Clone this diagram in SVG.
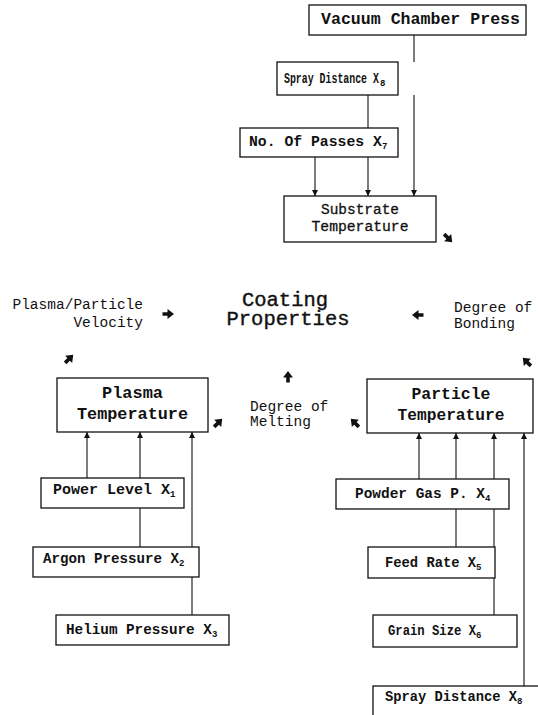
<svg xmlns="http://www.w3.org/2000/svg" width="538" height="715" viewBox="0 0 538 715">
  <style>
    .box { fill: #fff; stroke: #111; stroke-width: 1.3; }
    .lbl { font-family: "Liberation Mono", "Courier New", monospace; font-weight: bold; fill: #111; }
    .reg { font-weight: normal; stroke: #111; stroke-width: 0.3; }
    .sub { font-family: "Liberation Mono", "Courier New", monospace; font-weight: bold; fill: #111; font-size: 9px; }
    .free { font-family: "Liberation Mono", "Courier New", monospace; fill: #111; font-size: 14.5px; }
    .big { font-family: "Liberation Mono", "Courier New", monospace; fill: #111; font-size: 20.5px; stroke: #111; stroke-width: 0.4; }
    .wire { stroke: #111; stroke-width: 1.1; fill: none; }
    .arr { marker-end: url(#tip); }
    .bolt { fill: #111; }
  </style>
  <defs>
    <marker id="tip" viewBox="0 0 8 8" refX="8" refY="4" markerWidth="6" markerHeight="6" markerUnits="userSpaceOnUse" orient="auto">
      <path d="M0,0 L8,4 L0,8 Z" fill="#111"/>
    </marker>
    <path id="boltArrow" d="M-5.5,-1.8 H-0.5 V-5 L6,0 L-0.5,5 V1.8 H-5.5 Z"/>
  </defs>

  <rect width="538" height="715" fill="#fff"/>

  <!-- connectors -->
  <g id="connectors">
    <!-- upper cluster -->
    <line class="wire" x1="414" y1="35" x2="414" y2="62"/>
    <line class="wire" x1="368" y1="95" x2="368" y2="128"/>
    <line class="wire arr" x1="414" y1="95" x2="414" y2="196"/>
    <line class="wire arr" x1="315" y1="157" x2="315" y2="196"/>
    <line class="wire arr" x1="368" y1="157" x2="368" y2="196"/>
    <!-- plasma side -->
    <line class="wire arr" x1="87" y1="478" x2="87" y2="432"/>
    <line class="wire arr" x1="140" y1="478" x2="140" y2="432"/>
    <line class="wire" x1="140" y1="547" x2="140" y2="508"/>
    <line class="wire arr" x1="192" y1="615" x2="192" y2="432"/>
    <!-- particle side -->
    <line class="wire arr" x1="419" y1="479" x2="419" y2="433"/>
    <line class="wire arr" x1="456" y1="479" x2="456" y2="433"/>
    <line class="wire" x1="456" y1="547" x2="456" y2="509"/>
    <line class="wire arr" x1="494" y1="615" x2="494" y2="433"/>
    <line class="wire arr" x1="524" y1="686" x2="524" y2="433"/>
  </g>

  <!-- bold direction marks around the centre -->
  <g id="marks" class="bolt">
    <use href="#boltArrow" transform="translate(168,314)"/>
    <use href="#boltArrow" transform="translate(418,315) rotate(180)"/>
    <use href="#boltArrow" transform="translate(288,377) rotate(-90)"/>
    <use href="#boltArrow" transform="translate(69,359) rotate(-45)"/>
    <use href="#boltArrow" transform="translate(218,423) rotate(-45)"/>
    <use href="#boltArrow" transform="translate(355,423) rotate(-135)"/>
    <use href="#boltArrow" transform="translate(527,362) rotate(-135)"/>
    <use href="#boltArrow" transform="translate(448,238) rotate(45)"/>
  </g>

  <!-- upper cluster nodes -->
  <g id="vacuum">
    <rect class="box" x="309" y="5" width="217" height="30"/>
    <text class="lbl" x="321" y="24" font-size="16" textLength="199" lengthAdjust="spacingAndGlyphs">Vacuum Chamber Press</text>
  </g>
  <g id="spray-top">
    <rect class="box" x="277" y="62" width="121" height="33"/>
    <text class="lbl" font-size="15" transform="translate(284,83) scale(0.66,1)">Spray Distance X</text>
    <text class="sub" x="380" y="86" font-size="8">8</text>
  </g>
  <g id="passes">
    <rect class="box" x="240" y="128" width="158" height="29"/>
    <text class="lbl" font-size="15" transform="translate(249,146) scale(0.985,1)">No. Of Passes X</text>
    <text class="sub" x="382" y="149">7</text>
  </g>
  <g id="substrate">
    <rect class="box" x="284" y="196" width="152" height="46"/>
    <text class="lbl reg" x="360" y="214" font-size="14.5" text-anchor="middle" textLength="78" lengthAdjust="spacingAndGlyphs">Substrate</text>
    <text class="lbl reg" x="360" y="231" font-size="14.5" text-anchor="middle" textLength="97" lengthAdjust="spacingAndGlyphs">Temperature</text>
  </g>

  <!-- centre labels -->
  <g id="coating">
    <text class="big" text-anchor="middle"><tspan x="285" y="306">Coating</tspan><tspan x="288" y="325">Properties</tspan></text>
  </g>
  <g id="velocity">
    <text class="free" x="143" y="309" text-anchor="end">Plasma/Particle</text>
    <text class="free" x="143" y="327" text-anchor="end">Velocity</text>
  </g>
  <g id="bonding">
    <text class="free" x="454" y="312">Degree of</text>
    <text class="free" x="454" y="328">Bonding</text>
  </g>
  <g id="melting">
    <text class="free" x="250" y="411">Degree of</text>
    <text class="free" x="250" y="426">Melting</text>
  </g>

  <!-- plasma side nodes -->
  <g id="plasma-temp">
    <rect class="box" x="57" y="378" width="151" height="54"/>
    <text class="lbl" x="132.5" y="398" font-size="17" text-anchor="middle" textLength="61" lengthAdjust="spacingAndGlyphs">Plasma</text>
    <text class="lbl" x="132.5" y="419" font-size="17" text-anchor="middle" textLength="111" lengthAdjust="spacingAndGlyphs">Temperature</text>
  </g>
  <g id="power">
    <rect class="box" x="41" y="478" width="143" height="30"/>
    <text class="lbl" font-size="15" transform="translate(53,494)">Power Level X</text>
    <text class="sub" x="170" y="497">1</text>
  </g>
  <g id="argon">
    <rect class="box" x="33" y="547" width="166" height="30"/>
    <text class="lbl" font-size="15" transform="translate(43,563) scale(0.944,1)">Argon Pressure X</text>
    <text class="sub" x="179" y="566">2</text>
  </g>
  <g id="helium">
    <rect class="box" x="56" y="615" width="173" height="30"/>
    <text class="lbl" font-size="15" transform="translate(66,634) scale(0.954,1)">Helium Pressure X</text>
    <text class="sub" x="212" y="637">3</text>
  </g>

  <!-- particle side nodes -->
  <g id="particle-temp">
    <rect class="box" x="367" y="379" width="166" height="54"/>
    <text class="lbl" x="451" y="399" font-size="16.5" text-anchor="middle" textLength="79" lengthAdjust="spacingAndGlyphs">Particle</text>
    <text class="lbl" x="451" y="420" font-size="16.5" text-anchor="middle" textLength="107" lengthAdjust="spacingAndGlyphs">Temperature</text>
  </g>
  <g id="powder">
    <rect class="box" x="336" y="479" width="173" height="30"/>
    <text class="lbl" font-size="15" transform="translate(355,498) scale(0.963,1)">Powder Gas P. X</text>
    <text class="sub" x="485" y="501">4</text>
  </g>
  <g id="feed">
    <rect class="box" x="368" y="547" width="127" height="31"/>
    <text class="lbl" font-size="15" transform="translate(385,567) scale(0.92,1)">Feed Rate X</text>
    <text class="sub" x="476" y="570">5</text>
  </g>
  <g id="grain">
    <rect class="box" x="373" y="615" width="144" height="32"/>
    <text class="lbl" font-size="14.5" transform="translate(388,635) scale(0.843,1)">Grain Size X</text>
    <text class="sub" x="476" y="638">6</text>
  </g>
  <g id="spray-bottom">
    <rect class="box" x="373" y="686" width="170" height="40"/>
    <text class="lbl" font-size="15" transform="translate(385,701) scale(0.917,1)">Spray Distance X</text>
    <text class="sub" x="517" y="704">8</text>
  </g>
</svg>
